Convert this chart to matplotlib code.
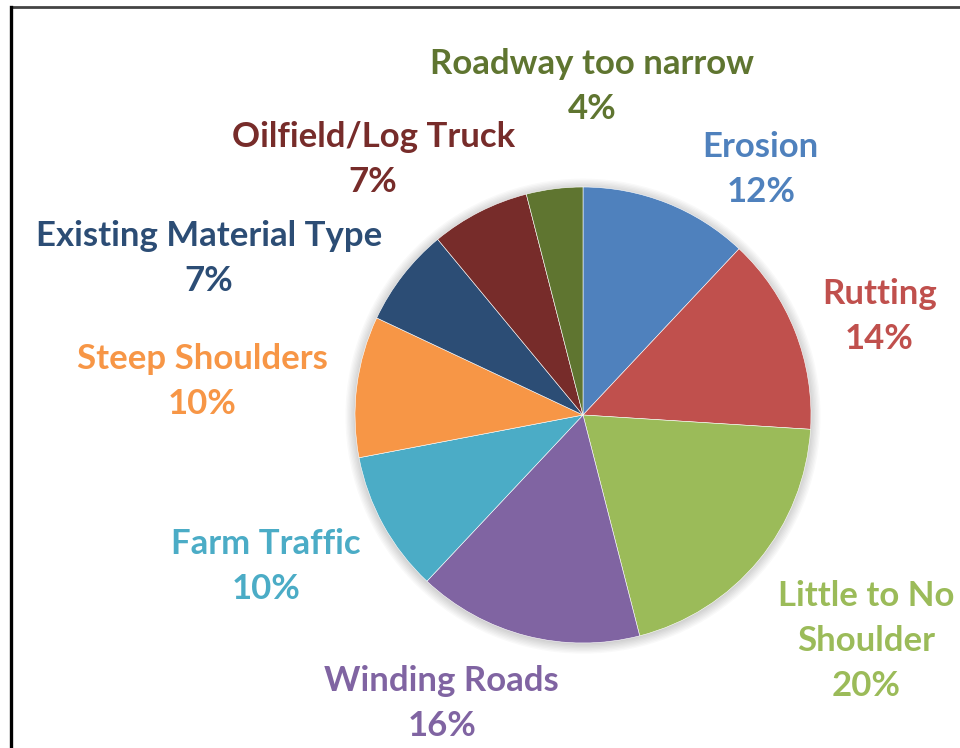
import numpy as np
import matplotlib.pyplot as plt
from matplotlib.patches import Circle
from matplotlib.lines import Line2D

# data
categories = ['Erosion', 'Rutting', 'Little to No\nShoulder', 'Winding Roads',
              'Farm Traffic', 'Steep Shoulders', 'Existing Material Type',
              'Oilfield/Log Truck', 'Roadway too narrow']
percents = [12, 14, 20, 16, 10, 10, 7, 7, 4]

colors = ['#4F81BD', '#C0504D', '#9BBB59', '#8064A2', '#4BACC6',
          '#F79646', '#2C4D75', '#772C2A', '#5F7530']

# label centres, in pie-radius units relative to the centre
label_pos = [(0.78, 1.075), (1.30, 0.43), (1.24, -0.99), (-0.62, -1.265),
             (-1.39, -0.665), (-1.67, 0.145), (-1.64, 0.685), (-0.92, 1.12),
             (0.04, 1.44)]

W, H = 960, 748
cx, cy, R = 583, 415, 228  # pie centre / radius in pixels

fig = plt.figure(figsize=(W / 100, H / 100), dpi=100)
ax = fig.add_axes([0, 0, 1, 1])

# soft shadow
for k in range(8):
    ax.add_patch(Circle((0.0, -0.005), 1.0 + 0.006 * k, color='black',
                        alpha=0.025, lw=0, zorder=0))

ax.pie(percents, colors=colors, startangle=90, counterclock=False,
       radius=1.0, center=(0, 0), frame=True,
       wedgeprops=dict(edgecolor='white', linewidth=0.4))
ax.set_xlim(-cx / R, (W - cx) / R)
ax.set_ylim(-(H - cy) / R, cy / R)
ax.set_aspect('equal')
ax.axis('off')

for name, p, c, (x, y) in zip(categories, percents, colors, label_pos):
    ax.text(x, y, '{}\n{}%'.format(name, p), color=c, ha='center', va='center',
            fontsize=25, fontweight='bold', family='Lato', linespacing=1.5)

# frame lines of the screenshot
fig.add_artist(Line2D([11 / W, 1], [1 - 7 / H, 1 - 7 / H], color='#444444', lw=2,
                      transform=fig.transFigure))
fig.add_artist(Line2D([11 / W, 11 / W], [0, 1 - 7 / H], color='black', lw=2.4,
                      transform=fig.transFigure))

fig.savefig('out.png', dpi=100)
